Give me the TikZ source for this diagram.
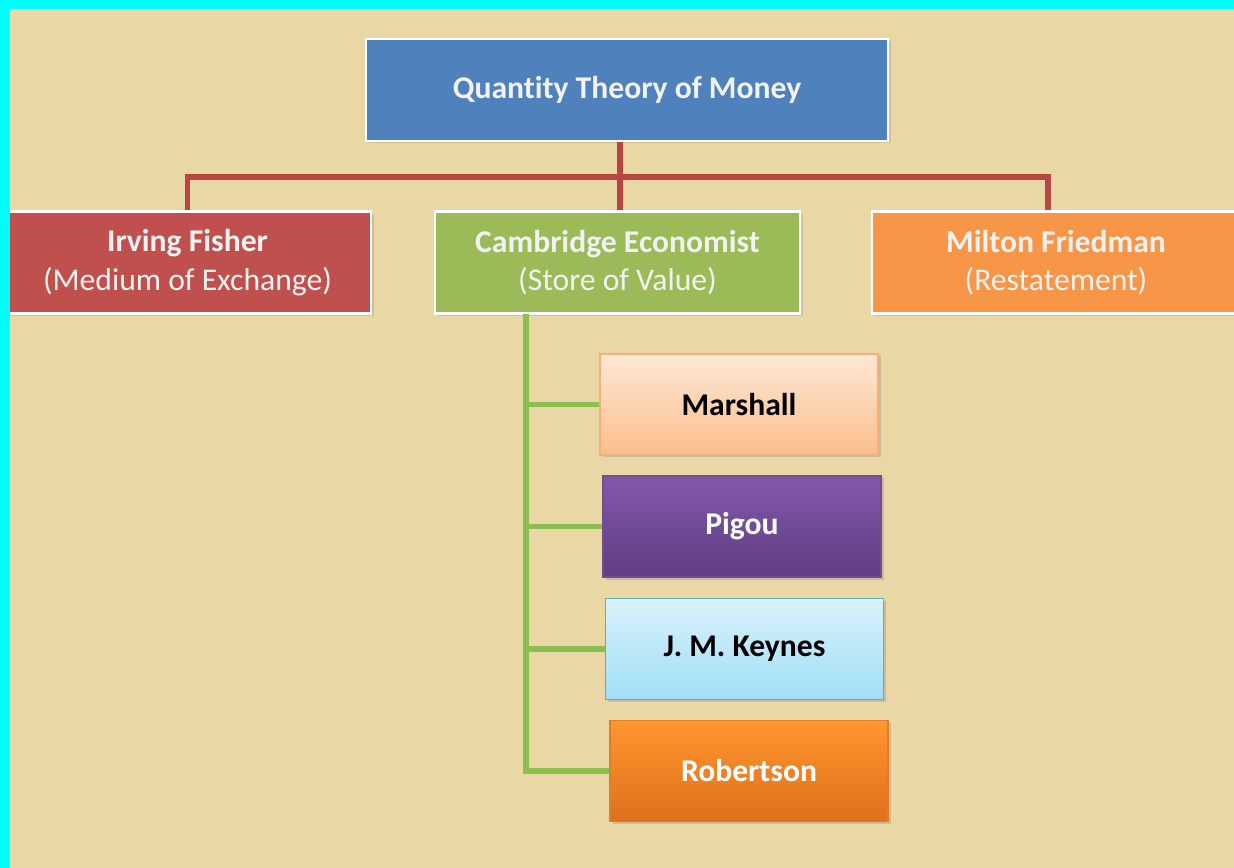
\documentclass[tikz,border=0pt]{standalone}
\usepackage{xcolor}
\usepackage{fontspec}
\setmainfont[Ligatures=NoCommon]{Carlito}
\usepackage{tikz}
\usetikzlibrary{shadows}

\definecolor{paper}{RGB}{233,215,166}
\definecolor{frame}{RGB}{0,255,255}
\definecolor{qtmblue}{RGB}{79,129,189}
\definecolor{fisherred}{RGB}{192,80,77}
\definecolor{cambgreen}{RGB}{155,187,89}
\definecolor{friedorange}{RGB}{247,150,70}
\definecolor{treered}{RGB}{185,70,66}
\definecolor{treegreen}{RGB}{140,190,80}

\begin{document}
\begin{tikzpicture}[
    topbox/.style={draw=white,line width=1.6pt,minimum height=2.04cm,
      align=center,text=white!95!black,font=\fontsize{18}{22}\selectfont,
      drop shadow={opacity=0.25,shadow xshift=0.05cm,shadow yshift=-0.05cm}},
    namebox/.style={line width=0.6pt,minimum width=5.56cm,minimum height=2.02cm,
      font=\fontsize{18}{22}\selectfont\bfseries,
      drop shadow={opacity=0.3,shadow xshift=0.05cm,shadow yshift=-0.05cm}},
    redline/.style={draw=treered,line width=3pt},
    greenline/.style={draw=treegreen,line width=3pt}]

    % paper and frame
    \fill[paper] (0,0) rectangle (24.68,-17.36);
    \useasboundingbox (0,0) rectangle (24.68,-17.36);

    % the three schools
    \node[topbox,fill=qtmblue,minimum width=10.44cm] (qtm) at (12.54,-1.8)
      {\bfseries Quantity Theory of Money};
    \node[topbox,fill=fisherred,minimum width=7.34cm] (fisher) at (3.75,-5.25)
      {\bfseries Irving Fisher\\(Medium of Exchange)};
    \node[topbox,fill=cambgreen,minimum width=7.3cm] (cambridge) at (12.35,-5.25)
      {\bfseries Cambridge Economist\\(Store of Value)};
    \node[topbox,fill=friedorange,minimum width=7.36cm] (friedman) at (21.12,-5.25)
      {\bfseries Milton Friedman\\(Restatement)};

    % the Cambridge economists
    \node[namebox,draw={rgb,255:red,245;green,175;blue,120},
      top color={rgb,255:red,253;green,232;blue,214},
      bottom color={rgb,255:red,251;green,190;blue,140}] (marshall) at (14.78,-8.09)
      {Marshall};
    \node[namebox,draw={rgb,255:red,110;green,80;blue,140},text=white,
      top color={rgb,255:red,130;green,88;blue,172},
      bottom color={rgb,255:red,96;green,62;blue,128}] (pigou) at (14.84,-10.53)
      {Pigou};
    \node[namebox,draw={rgb,255:red,95;green,175;blue,185},
      top color={rgb,255:red,218;green,242;blue,251},
      bottom color={rgb,255:red,160;green,222;blue,246}] (keynes) at (14.89,-12.98)
      {J. M. Keynes};
    \node[namebox,draw={rgb,255:red,225;green,125;blue,40},text=white,
      top color={rgb,255:red,255;green,150;blue,45},
      bottom color={rgb,255:red,222;green,112;blue,30}] (robertson) at (14.98,-15.42)
      {Robertson};

    % red tree
    \coordinate (hub) at (12.4,-3.54);
    \coordinate (trunk) at (10.52,-6.28);
    \draw[redline] (qtm.south -| hub) -- (hub);
    \draw[redline] (hub) -| (fisher.north);
    \draw[redline] (hub) -| ([xshift=-0.16cm]friedman.north);
    \draw[redline] (hub) -- (hub |- cambridge.north);

    % green tree
    \draw[greenline] (trunk) |- (robertson.west);
    \draw[greenline] (trunk |- marshall.west) -- (marshall.west);
    \draw[greenline] (trunk |- pigou.west) -- (pigou.west);
    \draw[greenline] (trunk |- keynes.west) -- (keynes.west);

    \fill[frame] (0,0) rectangle (0.2,-17.36);
    \fill[frame] (0,0) rectangle (24.68,-0.18);
  \end{tikzpicture}
\end{document}
